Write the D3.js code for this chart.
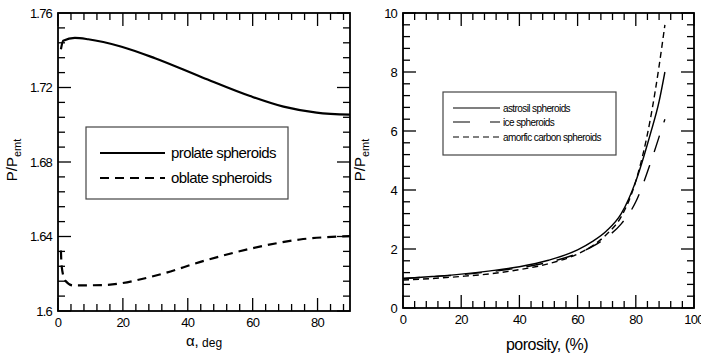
<!DOCTYPE html>
<html>
<head>
<meta charset="utf-8">
<script src="https://d3js.org/d3.v7.min.js"></script>
<style>
  body { margin: 0; background: #fff; }
  svg { font-family: "Liberation Sans", Arial, sans-serif; }
</style>
</head>
<body>
<svg id="chart" width="701" height="354"></svg>
<script>
// left panel: P/Pemt vs alpha
var alpha = [0.9, 1.6, 5.2, 9.3, 19.6, 29.9, 44.5, 59.2, 69.5, 79.7, 90];
var prolate = [1.7405, 1.7451, 1.7466, 1.7459, 1.7419, 1.7357, 1.7254, 1.7154, 1.7097, 1.7065, 1.7054];
var alphaOb = [0.9, 1.1, 2.2, 4.7, 14.5, 29.9, 45.3, 59.2, 74.6, 90];
var oblate = [1.6325, 1.6244, 1.6164, 1.6137, 1.6140, 1.6189, 1.6271, 1.6334, 1.6384, 1.6402];
var leftXTicks = [0, 20, 40, 60, 80];
var leftYTicks = [1.6, 1.64, 1.68, 1.72, 1.76];

// right panel: P/Pemt vs porosity
var porosity = [0, 10, 20, 30, 40, 50, 60, 65, 70, 75, 80, 85, 88, 90];
var astrosil = [1.0, 1.07, 1.15, 1.26, 1.40, 1.62, 1.97, 2.25, 2.62, 3.2, 4.3, 5.9, 7.0, 8.0];
var ice = [1.0, 1.06, 1.13, 1.23, 1.36, 1.55, 1.85, 2.08, 2.40, 2.85, 3.6, 4.9, 5.8, 6.4];
var carbon = [0.95, 1.0, 1.07, 1.16, 1.30, 1.50, 1.83, 2.1, 2.5, 3.1, 4.3, 6.4, 8.2, 9.6];
var rightXTicks = [0, 20, 40, 60, 80, 100];
var rightYTicks = [0, 2, 4, 6, 8, 10];

var svg = d3.select("#chart");

function panel(o) {
  var g = svg.append("g");
  var x = d3.scaleLinear().domain(o.xd).range([o.x0, o.x1]);
  var y = d3.scaleLinear().domain(o.yd).range([o.y1, o.y0]);

  // minor + major ticks on all four sides, pointing in
  var xMinor = d3.range(o.xd[0], o.xd[1] + 1e-9, o.xm);
  var yMinor = d3.range(o.yd[0], o.yd[1] + 1e-9, o.ym);
  function isMajor(v, list) { return list.some(function(t) { return Math.abs(t - v) < 1e-6; }); }
  var tk = g.append("g").attr("stroke", "#000").attr("stroke-width", 1.3);
  xMinor.forEach(function(v) {
    var L = isMajor(v, o.xt) ? 13 : 7;
    tk.append("line").attr("x1", x(v)).attr("x2", x(v)).attr("y1", o.y1).attr("y2", o.y1 - L);
    tk.append("line").attr("x1", x(v)).attr("x2", x(v)).attr("y1", o.y0).attr("y2", o.y0 + L);
  });
  yMinor.forEach(function(v) {
    var L = isMajor(v, o.yt) ? 13 : 7;
    tk.append("line").attr("y1", y(v)).attr("y2", y(v)).attr("x1", o.x0).attr("x2", o.x0 + L);
    tk.append("line").attr("y1", y(v)).attr("y2", y(v)).attr("x1", o.x1).attr("x2", o.x1 - L);
  });

  g.append("rect").attr("x", o.x0).attr("y", o.y0)
    .attr("width", o.x1 - o.x0).attr("height", o.y1 - o.y0)
    .attr("fill", "none").attr("stroke", "#000").attr("stroke-width", 1.8);

  g.selectAll(".xl").data(o.xt).enter().append("text")
    .attr("x", function(d) { return x(d); }).attr("y", o.y1 + 16)
    .attr("text-anchor", "middle").attr("font-size", 13).attr("letter-spacing", -0.8)
    .text(function(d) { return d; });
  g.selectAll(".yl").data(o.yt).enter().append("text")
    .attr("x", o.x0 - 6).attr("y", function(d) { return y(d) + 4.5; })
    .attr("text-anchor", "end").attr("font-size", 13).attr("letter-spacing", -0.8)
    .text(function(d) { return d; });

  // y title P/Pemt
  var yt = g.append("text").attr("transform", "translate(" + o.ytx + ",160) rotate(-90)")
    .attr("text-anchor", "middle").attr("font-size", 15);
  yt.append("tspan").text("P/P");
  yt.append("tspan").attr("font-size", 11).attr("dy", 4).text("emt");

  g.append("clipPath").attr("id", o.id).append("rect")
    .attr("x", o.x0).attr("y", o.y0).attr("width", o.x1 - o.x0).attr("height", o.y1 - o.y0);

  return { g: g, x: x, y: y };
}

function drawLine(p, xs, ys, dash, w, clip) {
  var line = d3.line().x(function(d, i) { return p.x(xs[i]); }).y(function(d) { return p.y(d); })
    .curve(d3.curveMonotoneX);
  p.g.append("path").datum(ys).attr("d", line).attr("fill", "none")
    .attr("stroke", "#000").attr("stroke-width", w)
    .attr("stroke-dasharray", dash).attr("clip-path", "url(#" + clip + ")");
}

// ---- left ----
var L = panel({ id: "clipL", xd: [0, 90], yd: [1.6, 1.76], x0: 58, x1: 350, y0: 13, y1: 311,
  xt: leftXTicks, yt: leftYTicks, xm: 4, ym: 0.008, ytx: 17 });
drawLine(L, alpha, prolate, null, 2.2, "clipL");
drawLine(L, alphaOb, oblate, "9,6", 2.2, "clipL");

var xt = L.g.append("text").attr("x", 204).attr("y", 346).attr("text-anchor", "middle").attr("font-size", 15);
xt.append("tspan").text("α,");
xt.append("tspan").attr("font-size", 12).attr("dy", 1).text(" deg");

var lg = L.g.append("g");
lg.append("rect").attr("x", 86).attr("y", 127).attr("width", 202).attr("height", 72)
  .attr("fill", "#fff").attr("stroke", "#444").attr("stroke-width", 1.2);
var leftLeg = [{ t: "prolate spheroids", d: null, y: 153 }, { t: "oblate spheroids", d: "9,6", y: 178 }];
leftLeg.forEach(function(e) {
  lg.append("line").attr("x1", 100).attr("x2", 165).attr("y1", e.y).attr("y2", e.y)
    .attr("stroke", "#000").attr("stroke-width", 2.2).attr("stroke-dasharray", e.d);
  lg.append("text").attr("x", 171).attr("y", e.y + 5).attr("font-size", 15).attr("letter-spacing", -0.6).text(e.t);
});

// ---- right ----
var R = panel({ id: "clipR", xd: [0, 100], yd: [0, 10], x0: 403, x1: 694, y0: 13, y1: 308,
  xt: rightXTicks, yt: rightYTicks, xm: 4, ym: 0.4, ytx: 365 });
drawLine(R, porosity, astrosil, null, 1.4, "clipR");
drawLine(R, porosity, ice, "17,14", 1.4, "clipR");
drawLine(R, porosity, carbon, "6,4", 1.4, "clipR");

R.g.append("text").attr("x", 547).attr("y", 350).attr("text-anchor", "middle")
  .attr("font-size", 16).attr("letter-spacing", -0.5).text("porosity, (%)");

var rg = R.g.append("g");
rg.append("rect").attr("x", 443).attr("y", 92).attr("width", 173).attr("height", 63)
  .attr("fill", "#fff").attr("stroke", "#444").attr("stroke-width", 1.2);
var rightLeg = [{ t: "astrosil spheroids", d: null, y: 108 }, { t: "ice spheroids", d: "17,20", y: 122 },
  { t: "amorfic carbon spheroids", d: "6,4", y: 137 }];
rightLeg.forEach(function(e) {
  rg.append("line").attr("x1", 453).attr("x2", 500).attr("y1", e.y).attr("y2", e.y)
    .attr("stroke", "#000").attr("stroke-width", 1.2).attr("stroke-dasharray", e.d);
  rg.append("text").attr("x", 503).attr("y", e.y + 3.5).attr("font-size", 10).attr("letter-spacing", -0.6).text(e.t);
});
</script>
</body>
</html>
